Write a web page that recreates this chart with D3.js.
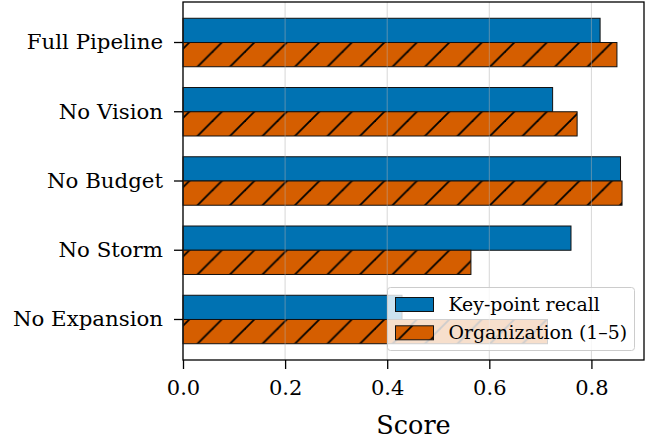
<!DOCTYPE html>
<html>
<head>
<meta charset="utf-8">
<script src="https://cdn.jsdelivr.net/npm/d3@7"></script>
<style>
  body { margin: 0; background: #fff; }
  text { font-family: "DejaVu Serif", serif; fill: #000; }
</style>
</head>
<body>
<svg id="chart"></svg>
<script>
// data
const categories = ["Full Pipeline", "No Vision", "No Budget", "No Storm", "No Expansion"];
const recall = [0.817, 0.724, 0.857, 0.760, 0.429];
const organization = [0.850, 0.772, 0.860, 0.564, 0.714];
const seriesNames = ["Key-point recall", "Organization (1–5)"];
const xTicks = [0.0, 0.2, 0.4, 0.6, 0.8];

class HBarChart {

  constructor(config) {
    this.config = {
      parent: config.parent,
      width: config.width || 649,
      height: config.height || 440,
      margin: config.margin || { top: 2, right: 5, bottom: 80, left: 183 }
    }
    this.init();
  }

  init() {
    let self = this;

    self.svg = d3.select(self.config.parent)
      .attr('width', self.config.width)
      .attr('height', self.config.height);

    self.inner_width = self.config.width - self.config.margin.left - self.config.margin.right;
    self.inner_height = self.config.height - self.config.margin.top - self.config.margin.bottom;

    // hatch "/" over orange, anchored to the page like matplotlib does
    const defs = self.svg.append('defs');
    const s = 32.5;
    const pat = defs.append('pattern')
      .attr('id', 'hatch')
      .attr('patternUnits', 'userSpaceOnUse')
      .attr('width', s).attr('height', s)
      .attr('patternTransform', 'translate(-2,0)');
    pat.append('rect').attr('width', s).attr('height', s).attr('fill', '#D55E00');
    [[0, s, s, 0], [-2, 2, 2, -2], [s - 2, s + 2, s + 2, s - 2]].forEach(l => {
      pat.append('line')
        .attr('x1', l[0]).attr('y1', l[1]).attr('x2', l[2]).attr('y2', l[3])
        .attr('stroke', '#000').attr('stroke-width', 1.8);
    });

    self.chart = self.svg.append('g')
      .attr('transform', `translate(${self.config.margin.left},${self.config.margin.top})`);

    self.xscale = d3.scaleLinear()
      .domain([0, d3.max(recall.concat(organization)) * 1.05])
      .range([0, self.inner_width]);

    self.yscale = d3.scaleBand()
      .domain(categories)
      .range([0, self.inner_height])
      .paddingInner(0.3)
      .paddingOuter(0.235);

    self.subscale = d3.scaleBand()
      .domain(seriesNames)
      .range([0, self.yscale.bandwidth()]);

    self.data = categories.map((c, i) => ({ name: c, values: [recall[i], organization[i]] }));
    self.render();
  }

  render() {
    let self = this;
    const fills = ['#0072B2', 'url(#hatch)'];

    const groups = self.chart.selectAll('g.cat')
      .data(self.data)
      .join('g')
      .attr('class', 'cat')
      .attr('transform', d => `translate(0,${self.yscale(d.name)})`);

    groups.selectAll('rect')
      .data(d => d.values.map((v, j) => ({ key: seriesNames[j], v: v, j: j })))
      .join('rect')
      .attr('x', 0)
      .attr('y', d => self.subscale(d.key))
      .attr('width', d => self.xscale(d.v))
      .attr('height', self.subscale.bandwidth())
      .attr('fill', d => fills[d.j])
      .attr('stroke', '#111')
      .attr('stroke-width', 1);

    // vertical grid drawn over the bars
    self.chart.append('g')
      .selectAll('line')
      .data(xTicks)
      .join('line')
      .attr('x1', d => self.xscale(d)).attr('x2', d => self.xscale(d))
      .attr('y1', 0).attr('y2', self.inner_height)
      .attr('stroke', '#b0b0b0')
      .attr('stroke-opacity', 0.5)
      .attr('stroke-width', 1);

    // frame
    self.chart.append('rect')
      .attr('width', self.inner_width)
      .attr('height', self.inner_height)
      .attr('fill', 'none')
      .attr('stroke', '#000')
      .attr('stroke-width', 1.3);

    const xaxis = d3.axisBottom(self.xscale)
      .tickValues(xTicks)
      .tickFormat(d3.format('.1f'))
      .tickSize(9)
      .tickPadding(11);

    const xg = self.chart.append('g')
      .attr('transform', `translate(0,${self.inner_height})`)
      .call(xaxis);
    xg.select('.domain').remove();
    xg.selectAll('line').attr('stroke', '#000').attr('stroke-width', 1.3);
    xg.selectAll('text').attr('font-size', 21).attr('font-family', '"DejaVu Serif", serif');

    const yaxis = d3.axisLeft(self.yscale)
      .tickSize(9)
      .tickPadding(11);

    const yg = self.chart.append('g').call(yaxis);
    yg.select('.domain').remove();
    yg.selectAll('line').attr('stroke', '#000').attr('stroke-width', 1.3);
    yg.selectAll('text').attr('font-size', 21.3).attr('font-family', '"DejaVu Serif", serif');

    self.chart.append('text')
      .attr('x', self.inner_width / 2)
      .attr('y', self.inner_height + 74)
      .attr('text-anchor', 'middle')
      .attr('font-size', 25.5)
      .text('Score');

    // legend
    const lg = self.svg.append('g').attr('transform', 'translate(387.5,287.5)');
    lg.append('rect')
      .attr('width', 247).attr('height', 63).attr('rx', 3)
      .attr('fill', '#fff').attr('fill-opacity', 0.8)
      .attr('stroke', '#cccccc').attr('stroke-width', 1);
    seriesNames.forEach((name, j) => {
      lg.append('rect')
        .attr('x', 8).attr('y', 10 + j * 28.3)
        .attr('width', 38).attr('height', 14)
        .attr('fill', fills[j])
        .attr('stroke', '#111').attr('stroke-width', 1);
      lg.append('text')
        .attr('x', 61).attr('y', 23.5 + j * 28.3)
        .attr('font-size', 18.9)
        .text(name);
    });
  }
}

const chart = new HBarChart({ parent: '#chart' });
</script>
</body>
</html>
